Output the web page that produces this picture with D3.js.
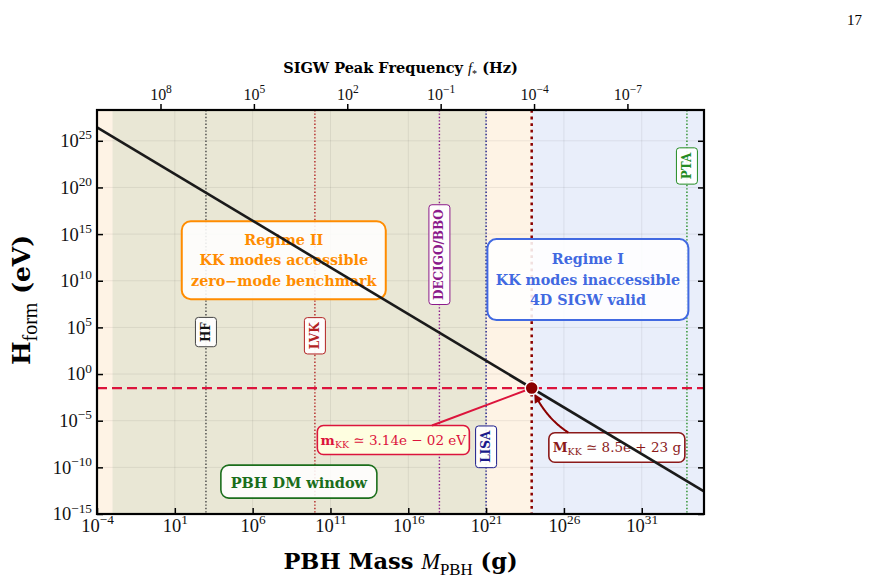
<!DOCTYPE html>
<html>
<head>
<meta charset="utf-8">
<script src="https://cdn.jsdelivr.net/npm/d3@7"></script>
<style>
  body { margin: 0; background: #fff; }
  svg { display: block; }
</style>
</head>
<body>
<div id="chart"></div>
<script>
// ---- data ----
const xTickExps = [-4, 1, 6, 11, 16, 21, 26, 31];          // PBH mass ticks (g)
const yTickExps = [-15, -10, -5, 0, 5, 10, 15, 20, 25];     // H_form ticks (eV)
const fTickExps = [8, 5, 2, -1, -4, -7];                    // SIGW peak frequency ticks (Hz)
const massDomain = [1e-4, 1e35];
const hDomain = [1e-15, Math.pow(10, 28.3)];
const freqDomain = [Math.pow(10, 10.04), Math.pow(10, -9.46)];

const lineMass = [1e-4, 1e35];         // H_form(M) line endpoints
const lineH = [2.67e26, 2.67e-13];

const mKK = 3.14e-2;    // eV
const MKK = 8.5e23;     // g

const detNames = ["HF", "LVK", "DECIGO/BBO", "LISA", "PTA"];
const detMass = [1e3, 1e10, 1e18, 1e21, 8e33];

const bandLo = [1e-4, 1e-3, MKK];
const bandHi = [MKK, 1e21, 1e35];

// ---- layout / style ----
const W = 869, H = 581;
const P = { l: 97, r: 704, t: 110, b: 514 };
const serif = "'DejaVu Serif', serif";
const serifR = "'Liberation Serif', 'DejaVu Serif', serif";

const bandFill = ["#fef3e5", "#e9e7d5", "#e9eefa"];
const detColor = ["#444444", "#b22222", "#8b1a8b", "#1a1a8b", "#228b22"];
const detTextColor = ["#111111", "#b22222", "#8b1a8b", "#1a1a8b", "#228b22"];
const detLabelH = [Math.pow(10, 4.5), Math.pow(10, 4.1), Math.pow(10, 12.8), Math.pow(10, -7.8), Math.pow(10, 22.3)];

const svg = d3.select("#chart").append("svg")
    .attr("width", W)
    .attr("height", H);

const x = d3.scaleLog().domain(massDomain).range([P.l, P.r]);
const y = d3.scaleLog().domain(hDomain).range([P.b, P.t]);
const xf = d3.scaleLog().domain(freqDomain).range([P.l, P.r]);

const sup = e => String(e).replace("-", "\u2212");

// page number
svg.append("text")
    .attr("x", 862).attr("y", 25)
    .attr("text-anchor", "end")
    .attr("font-family", serifR)
    .attr("font-size", 15)
    .text("17");

// ---- background bands ----
svg.append("g").selectAll("rect")
    .data(bandLo)
    .join("rect")
    .attr("x", (d, i) => x(d))
    .attr("width", (d, i) => x(bandHi[i]) - x(d))
    .attr("y", P.t)
    .attr("height", P.b - P.t)
    .attr("fill", (d, i) => bandFill[i]);

// ---- grid ----
const grid = svg.append("g").attr("stroke", "#000").attr("stroke-opacity", 0.07).attr("stroke-width", 1);
grid.selectAll(".gx")
    .data(xTickExps.slice(1))
    .join("line")
    .attr("x1", d => x(Math.pow(10, d))).attr("x2", d => x(Math.pow(10, d)))
    .attr("y1", P.t).attr("y2", P.b);
grid.selectAll(".gy")
    .data(yTickExps.slice(1))
    .join("line")
    .attr("y1", d => y(Math.pow(10, d))).attr("y2", d => y(Math.pow(10, d)))
    .attr("x1", P.l).attr("x2", P.r);

// ---- detector lines ----
svg.append("g").selectAll("line")
    .data(detMass)
    .join("line")
    .attr("x1", d => x(d)).attr("x2", d => x(d))
    .attr("y1", P.t).attr("y2", P.b)
    .attr("stroke", (d, i) => detColor[i])
    .attr("stroke-width", 1.4)
    .attr("stroke-dasharray", "1.4,2");

// ---- M_KK vertical dotted + m_KK dashed ----
svg.append("line")
    .attr("x1", x(MKK)).attr("x2", x(MKK))
    .attr("y1", P.t).attr("y2", P.b)
    .attr("stroke", "#8b0000")
    .attr("stroke-width", 2.5)
    .attr("stroke-dasharray", "2.8,3.8");

svg.append("line")
    .attr("x1", P.l).attr("x2", P.r)
    .attr("y1", y(mKK)).attr("y2", y(mKK))
    .attr("stroke", "#dc143c")
    .attr("stroke-width", 2.2)
    .attr("stroke-dasharray", "10,5");

// ---- rich text helper ----
function rich(textSel, segs, fs, subScale) {
    let shift = 0;
    segs.forEach(s => {
        const ts = textSel.append("tspan").text(s.t);
        const target = s.sup ? -0.42 * fs : s.sub ? 0.28 * fs : 0;
        if (target !== shift) { ts.attr("dy", target - shift); shift = target; }
        if (s.sup || s.sub) ts.attr("font-size", fs * (subScale || 0.7));
        if (s.w) ts.attr("font-weight", s.w);
        if (s.i) ts.attr("font-style", "italic");
        if (s.f) ts.attr("font-family", s.f);
    });
}

// box with text lines, centered at (cx, cy)
function textBox(cx, cy, lines, o) {
    const g = svg.append("g").attr("transform", `translate(${cx},${cy})` + (o.rot ? " rotate(-90)" : ""));
    const rect = g.append("rect");
    const n = lines.length;
    lines.forEach((segs, k) => {
        const t = g.append("text")
            .attr("x", 0)
            .attr("y", (k - (n - 1) / 2) * o.lh)
            .attr("text-anchor", "middle")
            .attr("dominant-baseline", "central")
            .attr("font-family", serif)
            .attr("font-weight", o.weight || "bold")
            .attr("font-size", o.fs)
            .attr("fill", o.color);
        rich(t, segs, o.fs);
    });
    const bb = g.node().getBBox();
    const w = o.w || bb.width + 2 * o.px;
    const h = o.h || bb.height + 2 * o.py;
    rect.attr("x", -w / 2).attr("y", -h / 2)
        .attr("width", w).attr("height", h)
        .attr("rx", o.rx || 6)
        .attr("fill", o.fill || "#fff")
        .attr("fill-opacity", o.fo == null ? 0.88 : o.fo)
        .attr("stroke", o.stroke || o.color)
        .attr("stroke-width", o.sw || 1.2);
    return { cx, cy, w, h };
}

// ---- regime boxes ----
textBox(x(1e8), y(Math.pow(10, 12.2)),
    [[{ t: "Regime II" }], [{ t: "KK modes accessible" }], [{ t: "zero\u2212mode benchmark" }]],
    { fs: 14.3, lh: 20.7, color: "#ff8c00", w: 204, h: 78, rx: 9, sw: 2 });

textBox(x(Math.pow(10, 27.54)), y(Math.pow(10, 10.12)),
    [[{ t: "Regime I" }], [{ t: "KK modes inaccessible" }], [{ t: "4D SIGW valid" }]],
    { fs: 14.3, lh: 20.3, color: "#4169e1", w: 201, h: 81, rx: 9, sw: 2 });

textBox(x(Math.pow(10, 8.97)), y(Math.pow(10, -11.53)),
    [[{ t: "PBH DM window" }]],
    { fs: 14.5, lh: 20, color: "#1b6e1b", w: 156, h: 33, rx: 8, sw: 1.6 });

// ---- detector labels ----
detNames.forEach((name, i) => {
    textBox(x(detMass[i]), y(detLabelH[i]), [[{ t: name }]],
        { fs: 12, lh: 12, color: detTextColor[i], stroke: detColor[i], px: 4.5, py: 3.5, rx: 3, sw: 1, rot: true, fo: 0.92 });
});

// ---- annotations for m_KK and M_KK ----
const dotX = x(MKK), dotY = y(mKK);

const boxA = textBox(x(Math.pow(10, 15.04)), y(Math.pow(10, -7.07)),
    [[{ t: "m", w: "bold" }, { t: "KK", sub: true, w: "normal" }, { t: " \u2243 3.14e \u2212 02 eV", w: "normal" }]],
    { fs: 13.5, lh: 14, color: "#dc143c", fill: "#ffffe0", fo: 0.95, w: 152, h: 29, rx: 6, sw: 1.6, weight: "normal" });

const boxB = textBox(x(Math.pow(10, 29.4)), y(Math.pow(10, -7.87)),
    [[{ t: "M", w: "bold" }, { t: "KK", sub: true, w: "normal" }, { t: " \u2243 8.5e + 23 g", w: "normal" }]],
    { fs: 13.5, lh: 14, color: "#8b1a1a", fill: "#fff", fo: 0.95, w: 136, h: 29.5, rx: 6, sw: 1.6, weight: "normal" });

// straight connector for m_KK: from box edge toward the dot
(function () {
    const dx = dotX - boxA.cx, dy = dotY - boxA.cy;
    const tEdge = Math.min(Math.abs((boxA.w / 2) / dx), Math.abs((boxA.h / 2) / dy));
    const len = Math.hypot(dx, dy);
    const tEnd = 1 - 4 / len;
    svg.append("line")
        .attr("x1", boxA.cx + dx * tEdge).attr("y1", boxA.cy + dy * tEdge)
        .attr("x2", boxA.cx + dx * tEnd).attr("y2", boxA.cy + dy * tEnd)
        .attr("stroke", "#dc143c")
        .attr("stroke-width", 2);
})();

// curved arrow for M_KK
(function () {
    const x0 = boxB.cx, y0 = boxB.cy;
    const dx = dotX - x0, dy = dotY - y0;
    const len = Math.hypot(dx, dy);
    const rad = -0.3;
    const cxp = x0 + dx / 2 + rad * dy * -1, cyp = y0 + dy / 2 + rad * dx;
    const q = t => [(1 - t) * (1 - t) * x0 + 2 * (1 - t) * t * cxp + t * t * dotX,
                    (1 - t) * (1 - t) * y0 + 2 * (1 - t) * t * cyp + t * t * dotY];
    let t0 = 0;
    for (let t = 0; t <= 1; t += 0.005) {
        const [px, py] = q(t);
        if (Math.abs(px - x0) > boxB.w / 2 || Math.abs(py - y0) > boxB.h / 2) { t0 = t; break; }
    }
    const t1 = 1 - 8 / len;
    const pts = d3.range(t0, t1, 0.01).map(q).concat([q(t1)]);
    svg.append("path")
        .attr("d", d3.line()(pts))
        .attr("fill", "none")
        .attr("stroke", "#8b0000")
        .attr("stroke-width", 2);
    // head
    const [ex, ey] = q(t1), [bx, by] = q(t1 - 0.06);
    const ang = Math.atan2(ey - by, ex - bx);
    const hl = 9, hw = 4.5;
    const tip = [ex + Math.cos(ang) * 3, ey + Math.sin(ang) * 3];
    const base = [tip[0] - Math.cos(ang) * hl, tip[1] - Math.sin(ang) * hl];
    const nx = -Math.sin(ang), ny = Math.cos(ang);
    svg.append("path")
        .attr("d", `M${tip[0]},${tip[1]}L${base[0] + nx * hw},${base[1] + ny * hw}L${base[0] - nx * hw},${base[1] - ny * hw}Z`)
        .attr("fill", "#8b0000");
})();

// ---- main H_form line ----
svg.append("path")
    .datum(d3.zip(lineMass, lineH))
    .attr("d", d3.line().x(d => x(d[0])).y(d => y(d[1])))
    .attr("fill", "none")
    .attr("stroke", "#1a1a1a")
    .attr("stroke-width", 2.6);

// ---- benchmark dot ----
svg.append("circle")
    .attr("cx", dotX).attr("cy", dotY)
    .attr("r", 6.5)
    .attr("fill", "#8b0000")
    .attr("stroke", "#fff")
    .attr("stroke-width", 1.5);

// ---- axes ----
function styleAxis(g, fs) {
    g.attr("font-family", serifR).attr("font-size", fs);
    g.select(".domain").remove();
    g.selectAll(".tick line").attr("stroke", "#000").attr("stroke-width", 1.5);
    g.selectAll(".tick text").attr("fill", "#111");
}
function powText(sel, exps, fs) {
    sel.each(function (d, i) {
        const t = d3.select(this);
        t.text(null);
        t.append("tspan").text("10");
        t.append("tspan").attr("dy", -0.42 * fs).attr("font-size", fs * 0.72).text(sup(exps[i]));
    });
}

const gx = svg.append("g")
    .attr("transform", `translate(0,${P.b})`)
    .call(d3.axisBottom(x).tickValues(xTickExps.map(e => Math.pow(10, e))).tickSize(-6).tickPadding(5));
styleAxis(gx, 18.5);
powText(gx.selectAll(".tick text"), xTickExps, 18.5);

const gy = svg.append("g")
    .attr("transform", `translate(${P.l},0)`)
    .call(d3.axisLeft(y).tickValues(yTickExps.map(e => Math.pow(10, e))).tickSize(-6).tickPadding(5));
styleAxis(gy, 18.5);
powText(gy.selectAll(".tick text"), yTickExps, 18.5);

const gyr = svg.append("g")
    .attr("transform", `translate(${P.r},0)`)
    .call(d3.axisRight(y).tickValues(yTickExps.map(e => Math.pow(10, e))).tickSize(-6).tickFormat(""));
styleAxis(gyr, 17);

const gt = svg.append("g")
    .attr("transform", `translate(0,${P.t})`)
    .call(d3.axisTop(xf).tickValues(fTickExps.map(e => Math.pow(10, e))).tickSize(6).tickPadding(4));
styleAxis(gt, 16);
powText(gt.selectAll(".tick text"), fTickExps, 16);

// frame
svg.append("rect")
    .attr("x", P.l).attr("y", P.t)
    .attr("width", P.r - P.l).attr("height", P.b - P.t)
    .attr("fill", "none")
    .attr("stroke", "#000")
    .attr("stroke-width", 2.2);

// ---- axis titles ----
const xt = svg.append("text")
    .attr("x", (P.l + P.r) / 2).attr("y", 569)
    .attr("text-anchor", "middle")
    .attr("font-family", serif).attr("font-size", 22.5).attr("font-weight", "bold");
rich(xt, [{ t: "PBH Mass " }, { t: "M", i: true, w: "normal", f: serifR }, { t: "PBH", sub: true, w: "normal", f: serifR }, { t: " (g)" }], 22.5, 0.75);

const yt = svg.append("text")
    .attr("transform", `translate(30,300) rotate(-90)`)
    .attr("text-anchor", "middle")
    .attr("font-family", serif).attr("font-size", 25).attr("font-weight", "bold");
rich(yt, [{ t: "H" }, { t: "form", sub: true, w: "normal", f: serifR }, { t: " (eV)" }], 25, 0.8);

const tt = svg.append("text")
    .attr("x", (P.l + P.r) / 2).attr("y", 73)
    .attr("text-anchor", "middle")
    .attr("font-family", serif).attr("font-size", 14.5).attr("font-weight", "bold");
rich(tt, [{ t: "SIGW Peak Frequency " }, { t: "f", i: true, w: "normal", f: serifR }, { t: "*", sub: true, w: "normal", f: serifR }, { t: " (Hz)" }], 14.5);
</script>
</body>
</html>
